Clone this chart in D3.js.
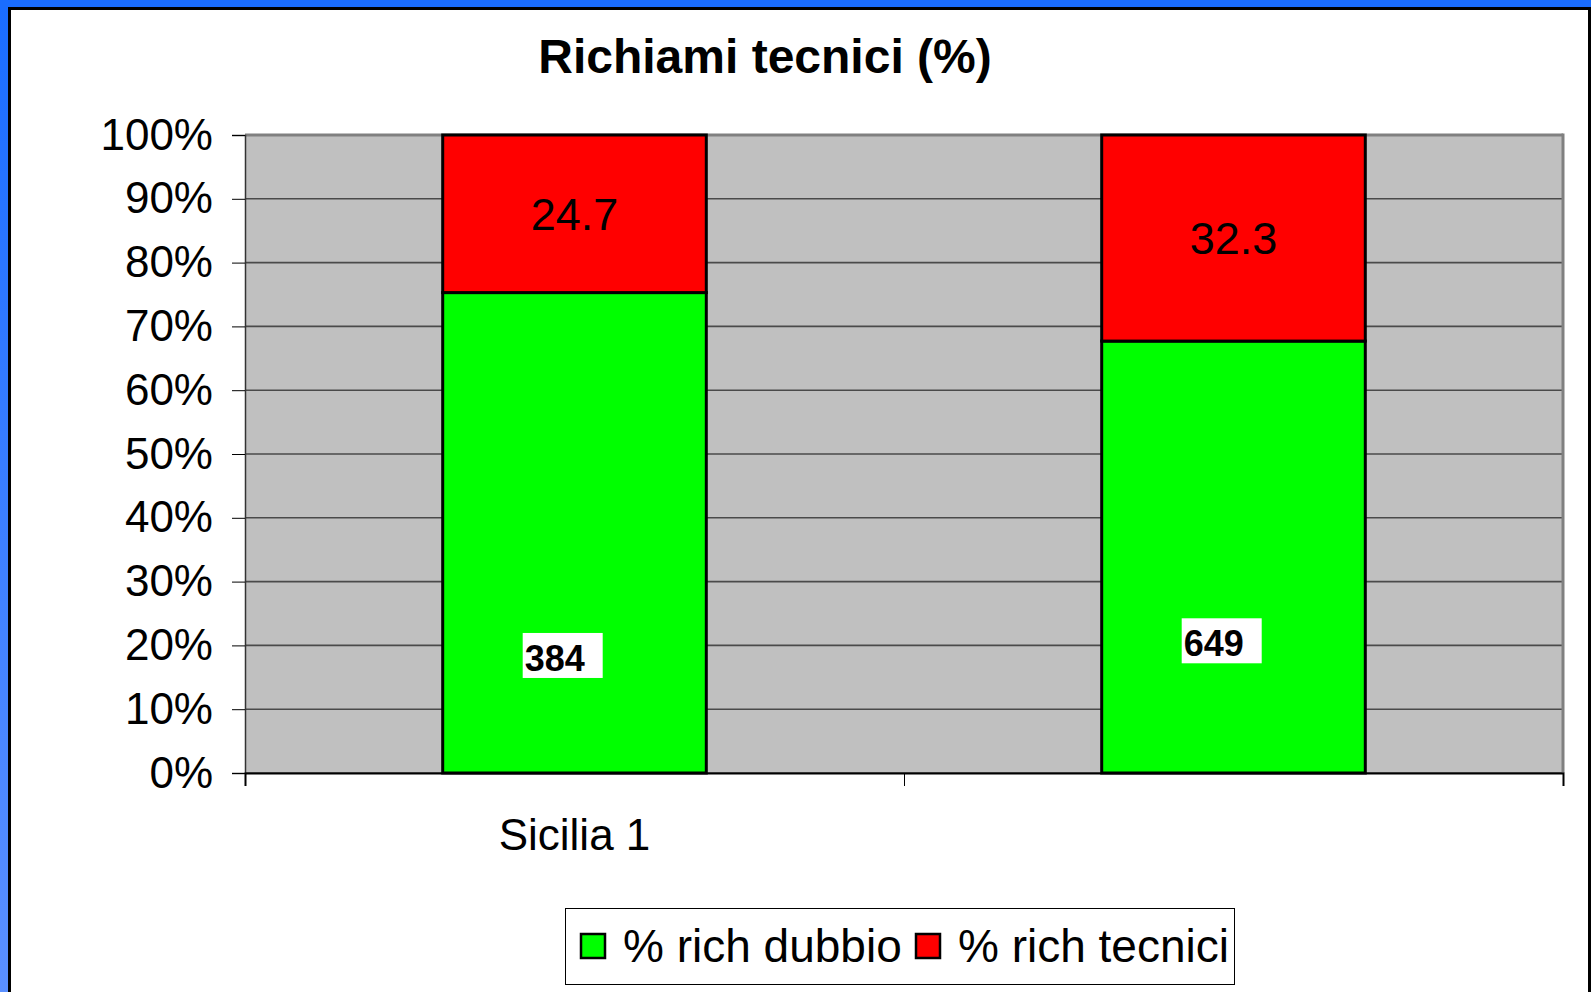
<!DOCTYPE html>
<html>
<head>
<meta charset="utf-8">
<script src="https://cdn.jsdelivr.net/npm/d3@7/dist/d3.min.js"></script>
<style>
  html, body { margin: 0; padding: 0; background: #1a6dff; }
  svg { display: block; font-family: "Liberation Sans", Arial, sans-serif; }
</style>
</head>
<body>
<div id="chart"></div>
<script>
// data
const categories = ["Sicilia 1", ""]
const seriesNames = ["% rich dubbio", "% rich tecnici"]
const richDubbio = [75.3, 67.7]
const richTecnici = [24.7, 32.3]
const countLabels = ["384", "649"]
const yTicks = [0, 10, 20, 30, 40, 50, 60, 70, 80, 90, 100]
const colors = ["#00ff00", "#ff0000"]

// layout
const W = 1591, H = 992
const plot = { left: 245, top: 135, right: 1563, bottom: 773 }
const countLabelAt = [18.5, 20.8]   // where the white count boxes sit (in % of axis)

const svg = d3.select("#chart").append("svg")
    .attr("width", W)
    .attr("height", H)

const defs = svg.append("defs")
const grad = defs.append("linearGradient").attr("id", "edge").attr("x1", 0).attr("y1", 0).attr("x2", 0).attr("y2", 1)
grad.append("stop").attr("offset", "0%").attr("stop-color", "#1a6dff")
grad.append("stop").attr("offset", "100%").attr("stop-color", "#5b90ff")

// frame
svg.append("rect").attr("x", 0).attr("y", 0).attr("width", W).attr("height", H).attr("fill", "#1a6dff")
svg.append("rect").attr("x", 0).attr("y", 7).attr("width", 9).attr("height", H).attr("fill", "url(#edge)")
svg.append("rect")
    .attr("x", 9.5).attr("y", 8.5)
    .attr("width", W - 11).attr("height", H)
    .attr("fill", "#fff")
    .attr("stroke", "#000")
    .attr("stroke-width", 3)

// scales
const x = d3.scaleBand()
    .domain(d3.range(categories.length))
    .range([plot.left, plot.right])
    .paddingInner(0.6)
    .paddingOuter(0.3)
const xEdge = d3.scaleLinear().domain([0, categories.length]).range([plot.left, plot.right])
const y = d3.scaleLinear().domain([0, 100]).range([plot.bottom, plot.top])

// plot area
svg.append("rect")
    .attr("x", plot.left).attr("y", plot.top)
    .attr("width", plot.right - plot.left).attr("height", plot.bottom - plot.top)
    .attr("fill", "#c0c0c0")

svg.append("g")
    .selectAll("line")
    .data(yTicks)
    .join("line")
    .attr("x1", plot.left).attr("x2", plot.right)
    .attr("y1", (d) => y(d)).attr("y2", (d) => y(d))
    .attr("stroke", (d) => d == 100 ? "#808080" : "#4a4a4a")
    .attr("stroke-width", (d) => d == 100 ? 3 : 1.6)

// right shadow edge
svg.append("line")
    .attr("x1", plot.right).attr("x2", plot.right)
    .attr("y1", plot.top - 1.5).attr("y2", plot.bottom)
    .attr("stroke", "#808080")
    .attr("stroke-width", 3)

// stacked bars
const stacked = d3.stack().keys([0, 1])(categories.map((c, i) => [richDubbio[i], richTecnici[i]]))
const barG = svg.append("g")
stacked.forEach((layer, k) => {
    barG.selectAll(null)
        .data(layer)
        .join("rect")
        .attr("x", (d, i) => x(i))
        .attr("y", (d) => y(d[1]))
        .attr("width", x.bandwidth())
        .attr("height", (d) => y(d[0]) - y(d[1]))
        .attr("fill", colors[k])
        .attr("stroke", "#000")
        .attr("stroke-width", 3)
})

// red values
barG.selectAll(null)
    .data(stacked[1])
    .join("text")
    .attr("x", (d, i) => x(i) + x.bandwidth() / 2)
    .attr("y", (d) => (y(d[0]) + y(d[1])) / 2)
    .attr("dy", "0.36em")
    .attr("text-anchor", "middle")
    .attr("font-size", 45)
    .attr("fill", "#000")
    .text((d, i) => richTecnici[i])

// count boxes in the green part
const cnt = barG.selectAll(null)
    .data(countLabels)
    .join("g")
    .attr("transform", (d, i) => `translate(${x(i) + 80}, ${y(countLabelAt[i]) - 22})`)
cnt.append("rect")
    .attr("width", 80).attr("height", 45)
    .attr("fill", "#fff")
cnt.append("text")
    .attr("x", 2).attr("y", 38)
    .attr("font-size", 36)
    .attr("font-weight", "bold")
    .attr("fill", "#000")
    .text((d) => d)

// axes
const yAxis = d3.axisLeft(y).tickValues(yTicks).tickSize(13).tickPadding(19).tickFormat((d) => d + "%")
const yG = svg.append("g")
    .attr("transform", `translate(${plot.left}, 0)`)
    .call(yAxis)
yG.select(".domain").attr("stroke", "#333").attr("stroke-width", 1.5)
yG.selectAll(".tick line").attr("stroke", "#000")
yG.selectAll(".tick text")
    .attr("font-size", 44)
    .attr("font-family", "Liberation Sans, Arial, sans-serif")
    .attr("fill", "#000")

const xAxis = d3.axisBottom(xEdge).tickValues(d3.range(categories.length + 1)).tickSize(13).tickFormat("")
const xG = svg.append("g")
    .attr("transform", `translate(0, ${plot.bottom})`)
    .call(xAxis)
xG.select(".domain").attr("stroke", "#000").attr("stroke-width", 2)
xG.selectAll(".tick line").attr("stroke", "#000")

svg.append("g")
    .selectAll("text")
    .data(categories)
    .join("text")
    .attr("x", (d, i) => x(i) + x.bandwidth() / 2)
    .attr("y", 850)
    .attr("text-anchor", "middle")
    .attr("font-size", 44)
    .attr("fill", "#000")
    .text((d) => d)

// title
svg.append("text")
    .attr("x", 765)
    .attr("y", 73)
    .attr("text-anchor", "middle")
    .attr("font-size", 48)
    .attr("font-weight", "bold")
    .attr("fill", "#000")
    .text("Richiami tecnici (%)")

// legend
const legend = svg.append("g").attr("transform", "translate(565, 908)")
legend.append("rect")
    .attr("x", 0.5).attr("y", 0.5)
    .attr("width", 669).attr("height", 76)
    .attr("fill", "#fff")
    .attr("stroke", "#000")
    .attr("stroke-width", 1)
const legendX = [15, 350]
const item = legend.selectAll("g.item")
    .data(seriesNames)
    .join("g")
    .attr("class", "item")
    .attr("transform", (d, i) => `translate(${legendX[i]}, 0)`)
item.append("rect")
    .attr("x", 1).attr("y", 26)
    .attr("width", 24).attr("height", 24)
    .attr("fill", (d, i) => colors[i])
    .attr("stroke", "#000")
    .attr("stroke-width", 2.5)
item.append("text")
    .attr("x", 43)
    .attr("y", 54)
    .attr("font-size", 46)
    .attr("fill", "#000")
    .text((d) => d)
</script>
</body>
</html>
